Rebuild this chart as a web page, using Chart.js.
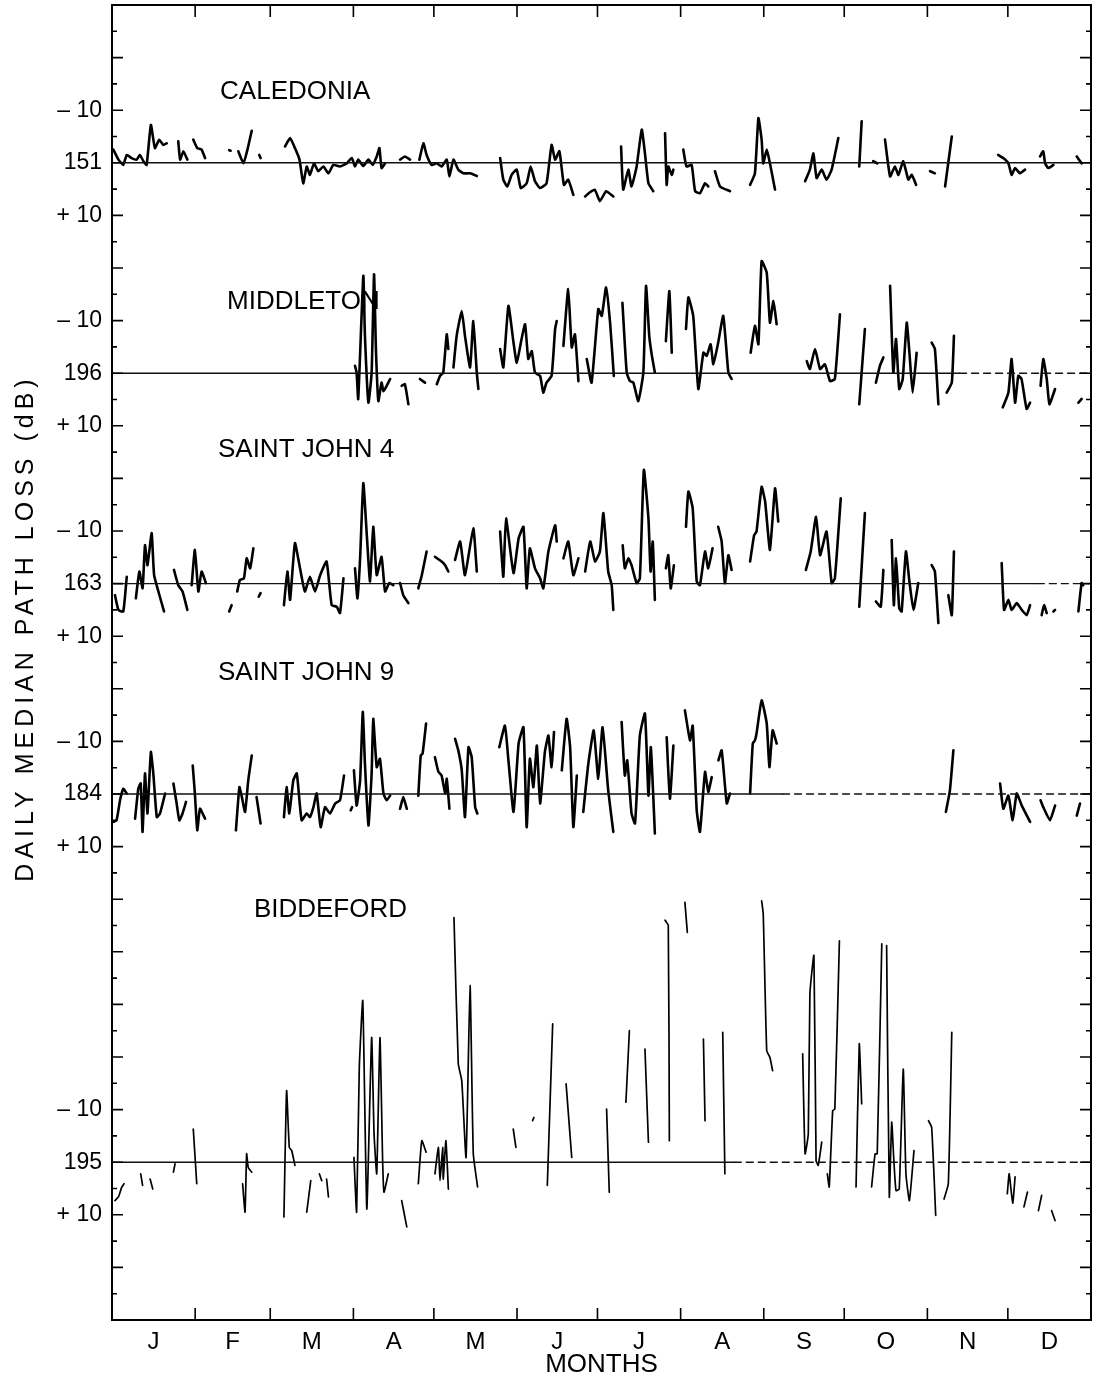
<!DOCTYPE html>
<html>
<head>
<meta charset="utf-8">
<script src="https://cdn.jsdelivr.net/npm/chart.js@4.4.1/dist/chart.umd.min.js"></script>
<style>
  html, body { margin: 0; padding: 0; background: #fff; }
  #wrap { width: 1100px; height: 1378px; }
</style>
</head>
<body>
<div id="wrap"><canvas id="chart" width="1100" height="1378"></canvas></div>
<script>
// month letters and the day-of-year on which each month starts
const MONTHS = ["J", "F", "M", "A", "M", "J", "J", "A", "S", "O", "N", "D"];
const MONTH_START = [0, 31, 59, 90, 120, 151, 181, 212, 243, 273, 304, 334, 365];

const STATIONS = ["CALEDONIA", "MIDDLETON", "SAINT JOHN 4", "SAINT JOHN 9", "BIDDEFORD"];
const MEDIANS = ["151", "196", "163", "184", "195"];

// daily median path loss, [day of year, dB from the station median], null = no record
const caledonia = [
  [0.5,-2.5],[2.4,-0.6],[4.2,0.4],[5.5,-1.5],[7.3,-0.9],[9.2,-0.6],[10.4,-1.5],[11.7,-0.3],[12.9,0.4],[14.5,-7.2],[16,-2.8],[17.6,-4.4],[19.1,-3.4],[20.4,-3.7], null,
  [24.7,-4.1],[25.4,-0.6],[26.6,-2.2],[28.1,-0.6], null,
  [30.3,-4.4],[31.8,-2.8],[33.4,-2.5],[34.7,-0.9], null,
  [43.7,-2.4],[44.2,-2.3], null,
  [47.1,-2.2],[49,0.1],[50.5,-2.5],[52.1,-6.1], null,
  [54.9,-1.5],[55.4,-0.9], null,
  [64.5,-3.1],[66.4,-4.7],[68.2,-2.8],[69.9,-0.6],[71.3,3.9],[72.6,0.7],[73.8,2.3],[75.3,0.1],[76.9,1.6],[78.8,0.7],[80.7,2],[82.5,0.4],[85,0.7],[87.5,0.1],[89.4,-0.9],[90.6,0.7],[91.8,-0.6],[93.7,0.6],[95.6,-0.6],[97.2,0.4],[98.7,-1.2],[99.7,-2.8],[100.5,1],[101.8,0.1], null,
  [107.4,-0.6],[109.2,-1.2],[111.1,-0.6], null,
  [114.6,-0.6],[116.1,-3.7],[117.3,-1.5],[119.2,0.4],[121,0.1],[122.9,0.7],[124.8,-0.6],[125.8,2.6],[127.3,-0.6],[129.1,1.3],[131,2],[133.5,2],[136,2.5], null,
  [144.7,-0.9],[145.9,3.2],[147.4,4.5],[149,2.3],[150.9,1.3],[152.4,4.8],[154.6,3.9],[156.1,0.7],[157.7,3.5],[159.6,4.8],[162,3.9],[163.9,-3.4],[165.2,-0.6],[166.8,-2.2],[168.5,4.2],[170.1,3.2],[172,6.1], null,
  [176.4,6.4],[178.2,5.6],[180,5.1],[181.9,7.3],[184.2,5.4],[186.9,6.4], null,
  [189.8,-3.1],[190.6,5.1],[192.5,1.3],[193.7,4.5],[195.6,0.7],[197.5,-6.3],[198.7,-1.8],[200,3.9],[201.8,5.4], null,
  [206.2,-5.6],[206.8,4.2],[207.4,0.7],[208.7,2.3],[209.3,1.3], null,
  [213,-2.5],[214.2,0.7],[216.1,0.4],[217.4,5.4],[219.2,5.8],[221.1,3.9],[222.3,4.5], null,
  [224.8,1.6],[226.7,4.5],[230.4,5.4], null,
  [237.9,4.2],[239.7,2],[241,-8.5],[242.2,-4.4],[242.8,0.1],[244.1,-2.5],[245.3,0.1],[247.2,5.1], null,
  [258.4,3.5],[260.2,1.3],[261.5,-1.8],[262.7,2.9],[264.6,1.3],[266.4,3.2],[268.3,1.3],[270.8,-4.7], null,
  [278.6,0.7],[279.5,-7.9], null,
  [283.8,-0.3],[285.3,0.1], null,
  [288.2,-4.4],[290.1,2.6],[291.9,0.7],[293.2,2.3],[295,-0.3],[296.9,3.2],[298.2,2.3],[299.8,4.2], null,
  [305,1.6],[306.8,2], null,
  [310.6,4.5],[313.1,-5], null,
  [330.4,-1.5],[332.3,-0.9],[334.2,0.1],[335.4,2.3],[336.7,1],[338.5,2],[340.4,1.3], null,
  [346,-1.2],[347.2,-2.2],[347.9,0.1],[349.1,1],[351,0.4], null,
  [359.7,-1.2],[361.5,0.1]
];

const middleton = [
  [90.6,-1.4],[91.2,-0.1],[91.8,4.9],[93.7,-18.5],[94.3,-7.1],[95.6,5.6],[96.8,-0.1],[97.7,-18.8],[98.4,-4.6],[99.3,5.3],[100.5,1.8],[101.2,3.4],[102.4,2.4],[103.7,1.1], null,
  [108,2.4],[109.2,2.1],[110.5,5.9], null,
  [114.8,1.1],[116.7,1.8], null,
  [121.1,2.1],[122.3,0.5],[123.5,-0.1],[124.8,-7.4],[125.4,-4.6], null,
  [127.3,-1.1],[128.5,-7.1],[130.4,-11.8],[131.6,-7.1],[133.5,-1.1],[134.7,-9.9],[136,-0.1],[136.6,3], null,
  [144.7,-4.6],[145.9,-1.1],[147.8,-12.8],[149.7,-5.8],[150.9,-2],[152.7,-6.5],[154,-9.3],[155.2,-2.7],[156.5,-4.2],[157.7,-0.1],[159.6,0.5],[160.8,3.7],[162,1.8],[163.9,0.5],[165.2,-8.4],[165.8,-9.9], null,
  [168.3,-5.2],[170.1,-16],[171.4,-4.9],[172.6,-7.4],[173.9,1.5], null,
  [177,-2.7],[178.8,1.8],[181.3,-12.2],[182.6,-10.9],[184.2,-16.3],[185.7,-9.6],[187.1,0.5], null,
  [190.3,-13.4],[191.9,-0.1],[193.1,1.5],[194.4,1.8],[196.2,5.3],[198.1,-0.1],[199.1,-16.6],[200.3,-7.1],[201.2,-3.6],[202.4,-0.1], null,
  [206.5,-6.1],[207.8,-15.6],[208.7,-3.9], null,
  [214,-8.4],[214.9,-14.4],[216.7,-10.9],[218.6,3],[220.5,-3.9],[221.7,-3.3],[223.2,-5.5],[224.2,-1.7],[226,-5.8],[227.9,-10.9],[229.8,-0.1],[231,1.1], null,
  [238.1,-3.9],[239.7,-9],[241,-5.5],[242.2,-21.3],[244.1,-19.1],[245.3,-9.6],[246.6,-13.7],[247.8,-9.3], null,
  [259,-2.3],[260.2,-0.8],[262.1,-4.6],[264,-0.8],[265.8,-1.7],[267.7,1.5],[269.5,1.1],[271.4,-11.2], null,
  [278.6,5.9],[280.7,-8.4], null,
  [284.8,1.8],[286.3,-1.4],[287.6,-3], null,
  [290.1,-16.6],[291.3,-0.1],[292.3,-6.5],[293.5,3],[294.8,1.1],[296.3,-9.6],[297.3,-3.9],[298.5,3.7],[300,-3.9], null,
  [305.6,-5.8],[306.8,-4.6],[308.1,5.9], null,
  [311.2,3.7],[313.1,1.8],[313.9,-7.1], null,
  [332.1,6.5],[334.2,3.7],[335.4,-2.7],[336.7,5.6],[337.9,0.5],[339.1,1.1],[341,6.8],[342.3,5.6], null,
  [346.2,2.4],[347.2,-2.7],[348.5,1.1],[349.5,5.9],[351.6,3], null,
  [360.3,5.6],[361.5,4.9]
];

const saintJohn4 = [
  [1.1,2.2],[2.4,5],[4.2,5.3],[5.5,-1.3], null,
  [8.9,2.8],[10.2,-2.3],[11.4,0.9],[12.3,-7.3],[13.2,-3.5],[13.9,-6.1],[14.8,-9.6],[15.7,-1.6],[17.3,1.5],[19.4,5.3], null,
  [23.1,-2.6],[24.7,0.3],[26.3,1.5],[28.1,5], null,
  [29.7,0.3],[30.9,-6.4],[32.2,1.5],[33.4,-2.3],[35,-0.1], null,
  [43.7,5.3],[44.6,4.1], null,
  [46.7,1.5],[47.7,-0.7],[49.2,-1],[50.2,-4.8],[51.5,-2.9],[52.7,-6.7], null,
  [54.7,2.5],[55.4,1.8], null,
  [64.1,4.1],[65.4,-2.3],[66.4,3.1],[68.2,-7.7],[70.1,-2.9],[71.9,1.5],[73.8,-1.3],[75.7,1.5],[77.6,-1.6],[80,-4.2],[81.9,4.1],[83.8,4.4],[85,5.6],[86.3,-1], null,
  [90.6,-2.9],[91.5,2.8],[92.5,-4.8],[93.7,-19.1],[95,-9.2],[96.2,-0.4],[97.4,-10.8],[98.7,-1.6],[100.5,-5.1],[101.8,1.5],[103.4,-0.1],[104.9,0.3], null,
  [107.4,-0.1],[108.6,2.2],[110.5,3.7], null,
  [114.2,0.9],[115.5,-1.6],[117.3,-6.1], null,
  [120.4,-5.1],[122.9,-4.2],[124.2,-3.5],[125.4,-2.3], null,
  [127.9,-4.5],[129.8,-8],[131.6,-1.6],[134.7,-10.5],[136,-2.3], null,
  [144.7,-9.9],[145.9,-1.3],[146.9,-12.4],[149.7,-2],[151.6,-8.6],[153.4,-10.8],[154.6,0.9],[155.8,-6.7],[157.7,-2.9],[159.6,-1],[160.8,0.9],[162.7,-6.1],[165.2,-11.1],[165.8,-8], null,
  [168.3,-4.8],[170.1,-8],[172,-1.6],[173.9,-4.8], null,
  [176.4,-2.3],[178.3,-8],[180.1,-4.2],[181.9,-6.1],[183.2,-13.4],[185,-2.3],[186.3,0.3],[186.9,5], null,
  [190.4,-7.3],[191.2,-2.9],[192.5,-4.8],[193.7,-3.5],[195.6,-0.1],[196.8,-1],[198.3,-21.6],[200,-12.4],[200.8,-2.3],[201.6,-8],[202.4,3.1], null,
  [206.5,-2.9],[207.4,-5.4],[208.3,0.9],[209.5,-3.5], null,
  [214,-10.8],[214.9,-17.5],[216.5,-14.3],[218,-0.4],[219.2,0.3],[221.1,-6.1],[222.3,-2.9],[223.9,-6.7], null,
  [226,-10.8],[227.3,-8],[228.5,-0.1],[229.8,-5.4],[231,-2.6], null,
  [237.9,-4.2],[239.4,-9.2],[240.3,-9.9],[242.2,-18.4],[243.5,-15.6],[245.3,-6.4],[247.2,-18.1],[248.4,-11.8], null,
  [258.7,-2.6],[260.5,-6.1],[262.5,-12.7],[264,-5.4],[266.4,-9.9],[268.3,-0.1],[269.5,-1],[271.7,-16.2], null,
  [278.6,4.4],[280.7,-13.4], null,
  [284.8,3.4],[286.6,4.4],[287.6,-2.6], null,
  [290.7,-8.3],[291.5,4.1],[292.3,-4.8],[293.5,4.7],[294.4,5.3],[296,-6.1],[297.3,-0.4],[298.8,5],[300.6,-0.1], null,
  [305.6,-3.5],[306.8,-2.3],[308.1,7.5], null,
  [311.8,2.2],[313.1,6],[313.9,-6.1], null,
  [331.7,-3.9],[332.6,5],[334.2,3.1],[335.4,5],[337.3,3.7],[339.2,5],[341,6],[342.3,4.1], null,
  [346.6,6],[347.5,4.1],[348.5,5.6], null,
  [351,5.3],[351.6,5], null,
  [360.3,5.3],[361.5,-0.1],[362.1,0.3]
];

const saintJohn9 = [
  [0.5,5.3],[1.7,5],[3,1.2],[4.2,-1],[5.5,-0.1], null,
  [8.6,4.7],[9.8,-1],[10.7,-2],[11.4,7.2],[12.3,-3.9],[13.2,3.7],[13.9,-2.6],[14.5,-8],[15.4,-3.9],[16.7,4.4],[17.9,3.7],[19.8,-0.1], null,
  [22.9,-2],[24.1,1.8],[25.1,5],[26.3,3.7],[27.6,1.5], null,
  [30.1,-5.4],[30.9,-0.1],[31.8,6.9],[32.8,2.8],[34.7,4.7], null,
  [46.2,6.9],[47.5,-1.3],[48.3,0.3],[49.6,3.4],[50.8,-2.6],[52.1,-7.3], null,
  [53.9,0.6],[55.4,5.6], null,
  [64.1,4.4],[65.1,-1.3],[66.1,3.7],[67.6,-2.6],[68.9,-3.9],[70.7,5],[72.6,3.7],[73.8,4.4],[75.1,2.5],[76.3,-0.1],[77.8,6.3],[79.4,2.5],[81.3,3.7],[83.2,1.8],[85,1.2],[86.5,-3.5], null,
  [89,3.1],[89.5,2.5], null,
  [90.2,-4.5],[91.2,2.2],[92.5,-2.6],[93.5,-15.6],[94.3,-5.8],[95.6,6],[96.8,-3.9],[97.4,-14.3],[98.7,-5.1],[99.9,-6.7],[101.2,-0.1],[102.4,1.2],[103.7,0.3], null,
  [107.4,2.8],[108.6,0.6],[109.9,2.8], null,
  [114.2,0.3],[115.1,-7.3],[115.8,-7.7],[117.1,-13.4], null,
  [120.4,-7],[121.7,-4.2],[122.9,-3.5],[124.2,-0.1],[124.8,-2.9],[125.8,2.8], null,
  [127.9,-10.5],[129.1,-8.3],[130.4,-4.5],[131.6,4.4],[132.9,-8.9],[134.1,-7],[135.4,2.5],[136.2,3.7], null,
  [144.4,-8.9],[146.5,-13],[147.8,-6.4],[149.7,3.4],[151.6,-9.6],[153.4,-12.7],[154.6,6.3],[155.8,-6.7],[157.1,-1.3],[158.4,-9.2],[159.6,1.8],[161.4,-8],[162.7,-11.1],[163.9,-5.1],[164.8,-11.8], null,
  [167.7,-4.5],[169.5,-14.3],[170.8,-8.9],[172,6.3],[173.3,-3.5], null,
  [175.7,3.4],[177.6,-5.8],[179.6,-12.1],[181.3,-2.9],[182.9,-12.7],[185,-0.7],[186.9,7.2], null,
  [190,-13.7],[191.2,-3.5],[192.1,-6.4],[193.7,3.7],[195,5.6],[196.8,-11.1],[198.7,-15.3],[200,0.3],[200.9,-8.9],[202.4,7.5], null,
  [206.8,-10.8],[208,0.9],[209.3,-9.2], null,
  [213.6,-15.9],[215.5,-10.2],[216.5,-13],[218,3.1],[219.2,7.2],[221.1,-4.2],[222.3,-0.4],[223.6,-3.2], null,
  [226.1,-6.4],[227.3,-8.3],[229.2,1.8],[230.4,-0.1], null,
  [237.9,-0.1],[238.9,-9.6],[239.7,-10.2],[240.3,-11.5],[242.2,-17.8],[244.1,-13.4],[245.1,-5.1],[246.3,-12.1],[247.8,-9.6], null,
  [310.9,3.4],[312.4,-0.7],[313.7,-8.3], null,
  [331.1,-2],[332.3,2.8],[334.2,0.3],[335.8,5],[337.3,-0.1],[339.2,2.2],[342.3,5.3], null,
  [346.2,1.2],[347.2,2.5],[349.7,5],[351.6,2.2], null,
  [359.7,4.1],[360.9,1.8]
];

const biddeford = [
  [1.1,7.3],[2.4,6.6],[3.6,4.8],[4.5,4.1], null,
  [10.7,2.2],[11.4,4.4], null,
  [14.2,3.2],[15.2,5.1], null,
  [22.9,1.9],[23.5,0.3], null,
  [30.3,-6.3],[31.6,4.1], null,
  [48.7,4.1],[49.6,9.5],[50.2,-1.6],[50.8,1],[52.1,1.9], null,
  [64.1,10.4],[65.1,-13.6],[66.1,-2.8],[67,-2.2],[68.2,0.6], null,
  [72.6,9.5],[74.1,3.5], null,
  [77.3,2.2],[78.2,3.5], null,
  [80,3.2],[80.7,6.6], null,
  [90.2,-0.9],[91.2,9.5],[92.2,-18],[93.5,-30.7],[95,8.9],[96.8,-23.7],[97.7,-5.4],[98.7,2.2],[99.9,-23.7],[100.9,-0.3],[101.4,5.7],[103,2.2], null,
  [108,7.3],[109.9,12.3], null,
  [114.2,4.1],[115.5,-4.1],[117.1,-1.9], null,
  [120.4,2.2],[121.7,-2.8],[122.3,3.5],[123.3,-2.8],[123.5,3.2],[124.5,-4.1],[125.4,5.1], null,
  [127.5,-46.5],[129.1,-18.7],[130.4,-15.5],[132,-0.9],[133.5,-33.6],[134.7,-1.6],[136.3,4.7], null,
  [149.6,-6.3],[150.6,-2.8], null,
  [156.8,-7.9],[157.3,-8.5], null,
  [162.3,4.4],[164.3,-26.3], null,
  [169.3,-14.9],[171.4,-0.9], null,
  [184.4,-10.1],[185.4,5.7], null,
  [191.6,-11.4],[192.9,-25], null,
  [198.7,-21.5],[200,-3.8], null,
  [206.2,-46],[207.4,-45],[207.8,-4.1], null,
  [213.6,-49.4],[214.5,-43.7], null,
  [220.5,-23.4],[221.1,-7.9], null,
  [227.7,-24.7],[228.5,2.2], null,
  [242.2,-49.7],[242.8,-47.2],[244.1,-21.2],[245.3,-19.9],[246.3,-17.4], null,
  [257.5,-20.6],[258.4,-1.6],[259.6,-5.4],[260.2,-32],[261.7,-39.3],[262.5,-0.3],[263.3,0.6],[264.6,-3.8], null,
  [266.7,2.2],[267.4,4.7],[268.7,-9.8],[269.5,-10.1],[271.2,-42.1], null,
  [277.4,4.7],[278.6,-22.5],[279.5,-11.1], null,
  [283.2,4.7],[284.5,-1.6],[285.3,-1.6],[287,-41.5], null,
  [288.8,-41.2],[289.8,6.6],[290.7,-7.6],[291.5,-0.3],[292.3,5.4],[293.5,5.1],[295,-17.7],[296,2.2],[297.3,7.3],[299,-2.2], null,
  [304.4,-7.9],[305.6,-6.6],[307.1,10.1], null,
  [310.2,7],[311.8,4.1],[313.1,-24.7], null,
  [333.8,6],[334.5,2.2],[335.8,7.8],[336.7,2.8], null,
  [340,8.5],[341.3,5.7], null,
  [345.4,9.2],[346.6,6.3], null,
  [350.3,9.2],[351.6,11.1]
];

const SERIES = [caledonia, middleton, saintJohn4, saintJohn9, biddeford];

// layout: where each station's median sits on the stacked dB axis (10 dB per major tick)
const BASELINE = [30, 70, 110, 150, 220];
const DASH_FROM = [365, 316, 345, 250, 232];
const LABEL_AT = [[40.3, 16.5], [42.9, 56.4], [39.5, 84.6], [39.5, 126.9], [52.9, 172]];
const Y_MAX = 250;

const LABEL_VALUES = [];
const LABEL_TEXT = [];
BASELINE.forEach((b, i) => {
  LABEL_VALUES.push(b - 10, b, b + 10);
  LABEL_TEXT.push("\u2013 10", MEDIANS[i], "+ 10");
});

function toPoints(series, base) {
  const pts = [];
  series.forEach((p, i) => {
    if (p === null) {
      pts.push({ x: series[i - 1][0] + 0.05, y: null });
    } else {
      pts.push({ x: p[0], y: base + p[1] });
    }
  });
  return pts;
}

const datasets = [];
BASELINE.forEach((b, i) => {
  const cut = DASH_FROM[i];
  datasets.push({
    data: [{ x: 0, y: b }, { x: cut, y: b }, { x: 365, y: b }],
    borderColor: "#111",
    borderWidth: 1.4,
    tension: 0,
    segment: { borderDash: c => (c.p0DataIndex === 1 ? [7, 5] : undefined) }
  });
});
SERIES.forEach((s, i) => {
  datasets.push({
    data: toPoints(s, BASELINE[i]),
    borderColor: "#000",
    borderWidth: i === 4 ? 1.7 : 2.6,
    spanGaps: false,
    tension: 0.15
  });
});

const FONT = "'Liberation Sans', Arimo, Arial, sans-serif";

// scales keep their box exactly as set, with no extra room for overhanging labels
function fixBox(w, h) {
  return s => {
    if (w !== null) s.width = w;
    if (h !== null) s.height = h;
    s.paddingTop = 0; s.paddingBottom = 0; s.paddingLeft = 0; s.paddingRight = 0;
  };
}

const frame = {
  id: "frame",
  afterDatasetsDraw(chart) {
    const { ctx, chartArea: a, scales: { x, y } } = chart;
    ctx.save();
    ctx.strokeStyle = "#000";
    ctx.lineWidth = 1.6;
    ctx.beginPath();
    MONTH_START.slice(1, -1).forEach(d => {
      const px = x.getPixelForValue(d);
      ctx.moveTo(px, a.top); ctx.lineTo(px, a.top + 12);
      ctx.moveTo(px, a.bottom); ctx.lineTo(px, a.bottom - 12);
    });
    for (let v = 5; v < Y_MAX; v += 5) {
      const py = y.getPixelForValue(v);
      const len = v % 10 === 0 ? 11 : 5;
      ctx.moveTo(a.left, py); ctx.lineTo(a.left + len, py);
      ctx.moveTo(a.right, py); ctx.lineTo(a.right - len, py);
    }
    ctx.stroke();

    ctx.fillStyle = "#000";
    ctx.font = "26px " + FONT;
    ctx.textAlign = "left";
    ctx.textBaseline = "middle";
    STATIONS.forEach((name, i) => {
      ctx.fillText(name, x.getPixelForValue(LABEL_AT[i][0]), y.getPixelForValue(LABEL_AT[i][1]));
    });

    ctx.translate(26, 628);
    ctx.rotate(-Math.PI / 2);
    ctx.textAlign = "center";
    ctx.font = "25px " + FONT;
    ctx.letterSpacing = "5px";
    ctx.fillText("DAILY MEDIAN PATH LOSS (dB)", 0, 0);
    ctx.restore();
  }
};

new Chart(document.getElementById("chart"), {
  type: "line",
  data: { datasets },
  plugins: [frame],
  options: {
    responsive: false,
    animation: false,
    devicePixelRatio: 1,
    layout: { padding: { top: 5, right: 9, left: 0, bottom: 0 } },
    plugins: { legend: { display: false }, tooltip: { enabled: false } },
    elements: {
      point: { radius: 0, hoverRadius: 0 },
      line: { borderCapStyle: "round", borderJoinStyle: "round" }
    },
    scales: {
      x: {
        type: "linear",
        position: "bottom",
        min: 0,
        max: 365,
        afterFit: fixBox(null, 58),
        afterBuildTicks: s => {
          s.ticks = MONTHS.map((m, i) => ({ value: (MONTH_START[i] + MONTH_START[i + 1]) / 2 }));
        },
        grid: { display: false, drawTicks: false },
        border: { display: true, color: "#000", width: 2 },
        ticks: {
          autoSkip: false,
          maxRotation: 0,
          padding: 8,
          color: "#000",
          font: { family: FONT, size: 24 },
          callback: (v, i) => MONTHS[i]
        },
        title: {
          display: true,
          text: "MONTHS",
          color: "#000",
          font: { family: FONT, size: 26 },
          padding: { top: 0, bottom: -2 }
        }
      },
      xTop: {
        type: "linear",
        position: "top",
        min: 0,
        max: 365,
        afterFit: fixBox(null, 0),
        grid: { display: false, drawTicks: false },
        border: { display: true, color: "#000", width: 2 },
        ticks: { display: false }
      },
      y: {
        type: "linear",
        position: "left",
        reverse: true,
        min: 0,
        max: Y_MAX,
        afterFit: fixBox(112, null),
        afterBuildTicks: s => {
          s.ticks = LABEL_VALUES.map(v => ({ value: v }));
        },
        grid: { display: false, drawTicks: false },
        border: { display: true, color: "#000", width: 2 },
        ticks: {
          autoSkip: false,
          padding: 10,
          color: "#000",
          font: { family: FONT, size: 23 },
          callback: (v, i) => LABEL_TEXT[i]
        }
      },
      yRight: {
        type: "linear",
        position: "right",
        min: 0,
        max: Y_MAX,
        afterFit: fixBox(0, null),
        grid: { display: false, drawTicks: false },
        border: { display: true, color: "#000", width: 2 },
        ticks: { display: false }
      }
    }
  }
});
</script>
</body>
</html>
